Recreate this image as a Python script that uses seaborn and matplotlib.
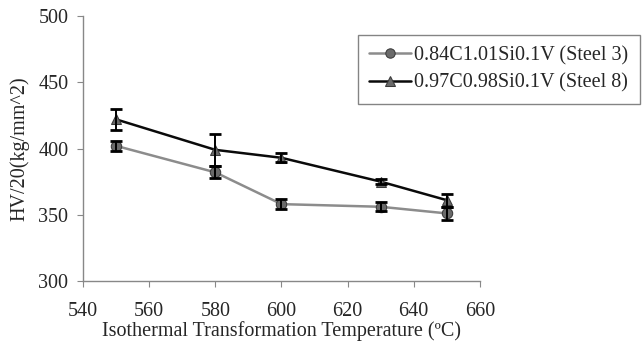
import pandas as pd
import seaborn as sns
from matplotlib import pyplot as plt

# 数据
temps = [550, 580, 600, 630, 650]
steel3 = [402, 382, 358, 356, 351]
steel3_err = [4, 4.5, 4, 3.5, 5]
steel8 = [422, 399, 393, 375, 361]
steel8_err = [8, 12, 3.5, 2, 5]
labels = ['0.84C1.01Si0.1V (Steel 3)', '0.97C0.98Si0.1V (Steel 8)']

df = pd.DataFrame({
    'temp': temps * 2,
    'hv': steel3 + steel8,
    'steel': [labels[0]] * len(temps) + [labels[1]] * len(temps),
})

sns.set_style("white")
plt.rcParams['font.family'] = ['Liberation Serif', 'DejaVu Serif']

fig = plt.figure(figsize=(6.44, 3.43), dpi=100)
ax = fig.add_axes([0.129, 0.181, 0.616, 0.772])

ax = sns.lineplot(data=df, x='temp', y='hv', hue='steel', style='steel',
                  markers=['o', '^'], dashes=False,
                  palette=['#8c8c8c', '#0a0a0a'], linewidth=1.8,
                  markersize=7.5, markeredgecolor='#3a3a3a',
                  ax=ax, legend=True)
for line in ax.lines:
    line.set_markerfacecolor('#6a6a6a')

# 误差线
ax.errorbar(temps, steel3, yerr=steel3_err, fmt='none', ecolor='black',
            capsize=4, elinewidth=1.4, capthick=2)
ax.errorbar(temps, steel8, yerr=steel8_err, fmt='none', ecolor='black',
            capsize=4, elinewidth=1.4, capthick=2)

ax.set_xlim(540, 660)
ax.set_ylim(300, 500)
ax.set_xticks(range(540, 661, 20))
ax.set_yticks(range(300, 501, 50))
ax.tick_params(axis='both', labelsize=14.5, direction='out', length=4,
               color='#888888', left=True, bottom=True)
ax.tick_params(axis='x', pad=11)
ax.tick_params(axis='y', pad=6.5)
for side in ['top', 'right']:
    ax.spines[side].set_visible(False)
for side in ['left', 'bottom']:
    ax.spines[side].set_color('#888888')
    ax.spines[side].set_linewidth(1)

ax.set_xlabel('Isothermal Transformation Temperature (ºC)', fontsize=14.5, labelpad=0)
ax.set_ylabel('HV/20(kg/mm^2)', fontsize=14.5)
ax.yaxis.set_label_coords(-0.136, 0.5)

leg = ax.legend(loc='upper left', bbox_to_anchor=(358 / 644, 1 - 35 / 343),
                bbox_transform=fig.transFigure, borderaxespad=0, fontsize=14.5,
                frameon=True, fancybox=False, handlelength=2.1,
                handletextpad=0.15, borderpad=0.55, labelspacing=0.4,
                markerscale=0.9)
leg.get_frame().set_edgecolor('#666666')
leg.get_frame().set_linewidth(1)

plt.savefig('out.png', dpi=100)
